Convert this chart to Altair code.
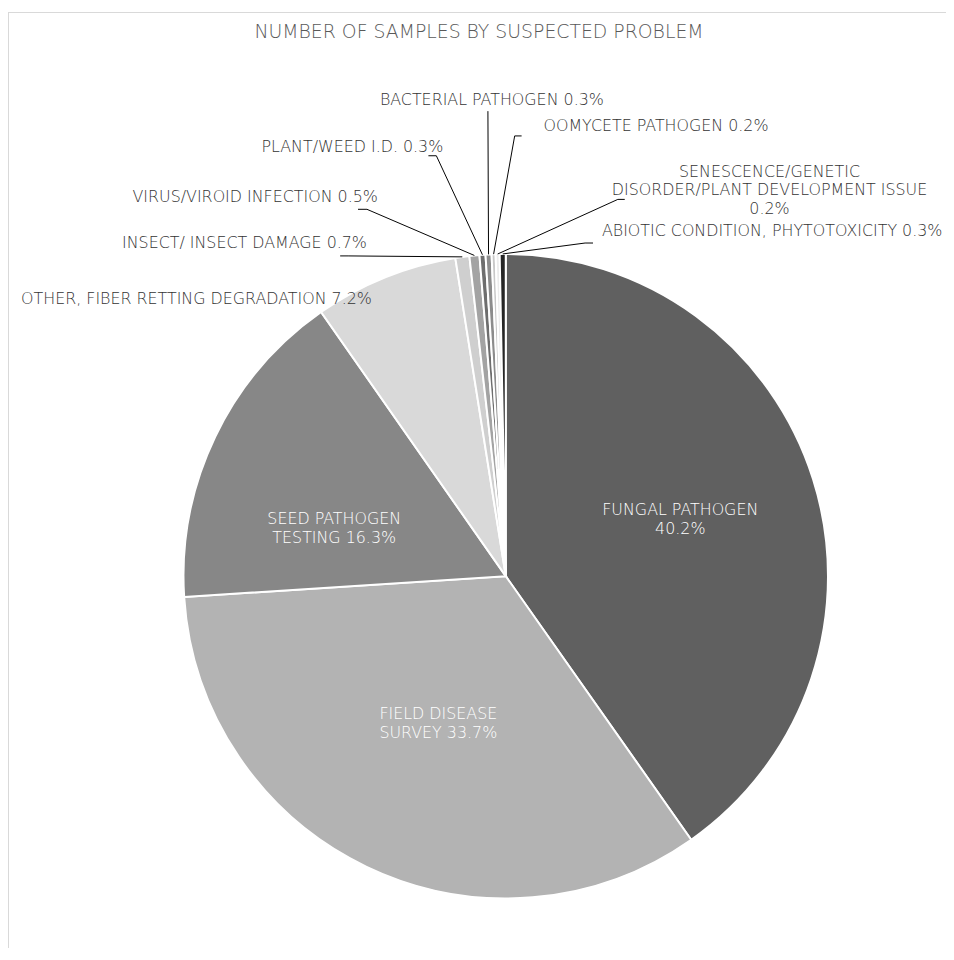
import altair as alt
import pandas as pd

# ---- data ----
categories = [
    "Fungal pathogen",
    "Field disease survey",
    "Seed pathogen testing",
    "Other, fiber retting degradation",
    "Insect/ insect damage",
    "Virus/viroid infection",
    "Plant/weed I.D.",
    "Bacterial pathogen",
    "Oomycete pathogen",
    "Senescence/genetic disorder/plant development issue",
    "Abiotic condition, phytotoxicity",
]
percent = [40.2, 33.7, 16.3, 7.2, 0.7, 0.5, 0.3, 0.3, 0.2, 0.2, 0.3]
label_text = [
    "Fungal pathogen\n40.2%",
    "Field disease\nsurvey 33.7%",
    "Seed pathogen\ntesting 16.3%",
    "Other, fiber retting degradation 7.2%",
    "Insect/ insect damage 0.7%",
    "Virus/viroid infection 0.5%",
    "Plant/weed I.D. 0.3%",
    "Bacterial pathogen 0.3%",
    "Oomycete pathogen 0.2%",
    "Senescence/genetic\ndisorder/plant development issue\n0.2%",
    "Abiotic condition, phytotoxicity 0.3%",
]
TITLE = "Number of Samples by Suspected problem"

# ---- styling ----
colors = ["#606060", "#b3b3b3", "#878787", "#d9d9d9", "#cfcfcf", "#a3a3a3",
          "#6e6e6e", "#8c8c8c", "#c8c8c8", "#ececec", "#262626"]
FONT = "DejaVu Sans"
FONT_W = 200
LAB_SIZE = 16
LINE_H = 19

# ---- layout (pixels, view coordinates) ----
W, H = 946, 892
PAD_TOP = 52
CX, CY, R = 502, 517, 325
# label anchor offsets (first line) from pie centre, alignment, text colour
lab_dx = [176, -68, -173, -135, -140, -129, -63, -14, 38, 266, 97]
lab_dy = [-67, 139.5, -57.5, -280, -336, -382, -433, -480, -454, -408, -348]
lab_align = ["center", "center", "center", "right", "right", "right", "right",
             "center", "left", "center", "left"]
lab_color = ["white", "white", "white"] + ["#333333"] * 8
# leader-line elbows (outer end, inner end of the short horizontal, y), None = no leader
lead_outer = [None, None, None, None, -167, -149, -78, -18, 16, 120, 88]
lead_inner = [None, None, None, None, -159, -140, -70, -18, 9, 113, 80]
lead_y = [None, None, None, None, -323, -370, -424, -469, -444, -380, -336]

df = pd.DataFrame({
    "category": categories,
    "value": percent,
    "idx": list(range(len(categories))),
    "label": label_text,
    "tx": [CX + d for d in lab_dx],
    "ty": [CY + d for d in lab_dy],
    "align": lab_align,
    "tcolor": lab_color,
    "has_lead": [o is not None for o in lead_outer],
    "ex1": [CX + o if o is not None else 0 for o in lead_outer],
    "ex2": [CX + o if o is not None else 0 for o in lead_inner],
    "ey": [CY + o if o is not None else 0 for o in lead_y],
})

base = alt.Chart(df)

pie = base.mark_arc(radius=R, stroke="white", strokeWidth=2).encode(
    theta=alt.Theta("value:Q", stack=True),
    order=alt.Order("idx:Q"),
    color=alt.Color("category:N", scale=alt.Scale(domain=categories, range=colors), legend=None),
    x=alt.value(CX),
    y=alt.value(CY),
)

# slice mid-angle points computed from the data
slice_pts = base.transform_window(
    cum="sum(value)", sort=[alt.SortField("idx")], frame=[None, 0]
).transform_joinaggregate(
    total="sum(value)"
).transform_calculate(
    mid="(datum.cum - datum.value/2) / datum.total * 2 * PI",
).transform_calculate(
    sx=f"{CX} + {R} * sin(datum.mid)",
    sy=f"{CY} - {R} * cos(datum.mid)",
).transform_filter("datum.has_lead")

leader_diag = slice_pts.mark_rule(color="#000000", strokeWidth=1).encode(
    x=alt.X("ex2:Q", scale=None),
    y=alt.Y("ey:Q", scale=None),
    x2="sx:Q",
    y2="sy:Q",
)
leader_h = slice_pts.mark_rule(color="#000000", strokeWidth=1).encode(
    x=alt.X("ex1:Q", scale=None),
    y=alt.Y("ey:Q", scale=None),
    x2="ex2:Q",
)

def label_layer(align):
    return base.transform_filter(f"datum.align == '{align}'").transform_calculate(
        disp="upper(datum.label)"
    ).mark_text(
        align=align, baseline="middle", font=FONT, fontSize=LAB_SIZE, lineBreak="\n",
        lineHeight=LINE_H, fontWeight=FONT_W,
    ).encode(
        x=alt.X("tx:Q", scale=None),
        y=alt.Y("ty:Q", scale=None),
        text="disp:N",
        color=alt.Color("tcolor:N", scale=None),
    )

frame_top = alt.Chart(pd.DataFrame({"a": [0]})).mark_rule(color="#d9d9d9").encode(
    x=alt.value(0), x2=alt.value(W), y=alt.value(-PAD_TOP + 0.5)
)
frame_left = alt.Chart(pd.DataFrame({"a": [0]})).mark_rule(color="#d9d9d9").encode(
    x=alt.value(0.5), y=alt.value(-PAD_TOP), y2=alt.value(H)
)

chart = alt.layer(
    frame_top, frame_left, pie, leader_h, leader_diag,
    label_layer("center"), label_layer("left"), label_layer("right"),
).properties(
    width=W, height=H,
    autosize=alt.AutoSizeParams(type="none"),
    padding={"top": PAD_TOP, "left": 0, "right": 0, "bottom": 0},
    title=alt.TitleParams(
        TITLE.upper(), font=FONT, fontSize=19, fontWeight=FONT_W, color="#595959",
        anchor="middle", baseline="alphabetic", offset=-46, dx=2,
    ),
).configure_view(stroke=None)

chart.save("out.html", embed_options={"renderer": "svg", "actions": False})
